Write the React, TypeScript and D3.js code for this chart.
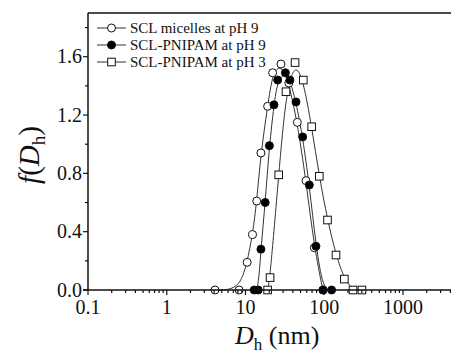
import React from 'react';
import * as d3 from 'd3';

const seriesNames = ['SCL micelles at pH 9', 'SCL-PNIPAM at pH 9', 'SCL-PNIPAM at pH 3'];

const micellesX = [4.1, 8.3, 10.5, 12.3, 13.9, 15.7, 19.1, 22.1, 28.2, 35.5, 45.5, 58.6, 74.8, 96];
const micellesY = [0, 0, 0.19, 0.38, 0.61, 0.94, 1.26, 1.49, 1.55, 1.42, 1.15, 0.75, 0.29, 0];

const pnipam9X = [12.9, 14.5, 15.7, 17.8, 20.1, 23.0, 25.6, 32.1, 36.7, 43.8, 53.2, 64.6, 78.5, 97, 124];
const pnipam9Y = [0, 0, 0.28, 0.6, 0.99, 1.27, 1.44, 1.49, 1.44, 1.29, 1.05, 0.72, 0.3, 0, 0];

const pnipam3X = [19.1, 20.5, 26.4, 32.7, 42.6, 54.2, 69.2, 86.5, 110, 141, 180, 232, 301];
const pnipam3Y = [0, 0.085, 0.79, 1.36, 1.56, 1.44, 1.12, 0.78, 0.48, 0.24, 0.075, 0, 0];

const xTicks = [0.1, 1, 10, 100, 1000];
const xTickLabels = ['0.1', '1', '10', '100', '1000'];
const yTicks = [0.0, 0.4, 0.8, 1.2, 1.6];
const yTickLabels = ['0.0', '0.4', '0.8', '1.2', '1.6'];
const yMinorTicks = [0.2, 0.6, 1.0, 1.4, 1.8];

const FONT = '"Liberation Serif", "Times New Roman", serif';

type Marker = 'openCircle' | 'filledCircle' | 'openSquare';

function MarkerShape({ kind, cx, cy }: { kind: Marker; cx: number; cy: number }) {
  if (kind === 'openSquare') {
    return <rect x={cx - 3.8} y={cy - 3.8} width={7.6} height={7.6} fill="#fff" stroke="#111" strokeWidth={1} />;
  }
  return (
    <circle cx={cx} cy={cy} r={4} fill={kind === 'filledCircle' ? '#000' : '#fff'} stroke="#111" strokeWidth={1} />
  );
}

export default function App() {
  const W = 451;
  const H = 355;
  const left = 88;
  const right = 451;
  const top = 13;
  const bottom = 290;

  const x = d3.scaleLog().domain([0.1, 4070]).range([left, right]);
  const y = d3.scaleLinear().domain([0, 1.9]).range([bottom, top]);

  const series: { name: string; xs: number[]; ys: number[]; marker: Marker }[] = [
    { name: seriesNames[0], xs: micellesX, ys: micellesY, marker: 'openCircle' },
    { name: seriesNames[1], xs: pnipam9X, ys: pnipam9Y, marker: 'filledCircle' },
    { name: seriesNames[2], xs: pnipam3X, ys: pnipam3Y, marker: 'openSquare' },
  ];

  const line = d3
    .line<[number, number]>()
    .x((d) => x(d[0]))
    .y((d) => y(d[1]))
    .curve(d3.curveBasis);

  const xMinor: number[] = [];
  for (let e = -1; e <= 3; e++) {
    for (let m = 2; m <= 9; m++) {
      const v = m * Math.pow(10, e);
      if (v < 4070) xMinor.push(v);
    }
  }

  return (
    <svg width={W} height={H} style={{ position: 'absolute', left: 0, top: 0, background: '#fff' }} fontFamily={FONT}>
      {/* curves */}
      {series.map((s, i) => (
        <path
          key={'l' + i}
          d={line(s.xs.map((v, j) => [v, s.ys[j]] as [number, number])) || ''}
          fill="none"
          stroke="#333"
          strokeWidth={1}
        />
      ))}
      {/* markers */}
      {series.map((s, i) => (
        <g key={'m' + i}>
          {s.xs.map((v, j) => (
            <MarkerShape key={j} kind={s.marker} cx={x(v)} cy={y(s.ys[j])} />
          ))}
        </g>
      ))}

      {/* frame: top line, left axis, bottom axis */}
      <line x1={left} x2={right} y1={top} y2={top} stroke="#111" strokeWidth={1.5} />
      <line x1={left} x2={left} y1={top} y2={bottom} stroke="#111" strokeWidth={1.5} />
      <line x1={left - 5} x2={right} y1={bottom} y2={bottom} stroke="#111" strokeWidth={1.5} />

      {/* y ticks */}
      {yTicks.map((v, i) => (
        <g key={'yt' + i}>
          <line x1={left - 5} x2={left} y1={y(v)} y2={y(v)} stroke="#111" strokeWidth={1.2} />
          <text x={left - 6} y={y(v) + 6.5} textAnchor="end" fontSize={20} fill="#111">
            {yTickLabels[i]}
          </text>
        </g>
      ))}
      {yMinorTicks.map((v, i) => (
        <line key={'ym' + i} x1={left - 3} x2={left} y1={y(v)} y2={y(v)} stroke="#111" strokeWidth={1.2} />
      ))}

      {/* x ticks */}
      {xTicks.map((v, i) => (
        <g key={'xt' + i}>
          <line x1={x(v)} x2={x(v)} y1={bottom} y2={bottom + 5} stroke="#111" strokeWidth={1.2} />
          <text x={x(v)} y={bottom + 24} textAnchor="middle" fontSize={20} fill="#111">
            {xTickLabels[i]}
          </text>
        </g>
      ))}
      {xMinor.map((v, i) => (
        <line key={'xm' + i} x1={x(v)} x2={x(v)} y1={bottom} y2={bottom + 3} stroke="#111" strokeWidth={1.2} />
      ))}

      {/* axis titles */}
      <text x={235} y={344} fontSize={26} fill="#111">
        <tspan fontStyle="italic">D</tspan>
        <tspan fontSize={17} dy={6}>h</tspan>
        <tspan dy={-6}> (nm)</tspan>
      </text>
      <text transform="translate(39,155) rotate(-90)" textAnchor="middle" fontSize={29} fill="#111">
        <tspan fontStyle="italic">f</tspan>
        <tspan>(</tspan>
        <tspan fontStyle="italic">D</tspan>
        <tspan fontSize={19} dy={6}>h</tspan>
        <tspan dy={-6}>)</tspan>
      </text>

      {/* legend */}
      {series.map((s, i) => {
        const ly = 28 + i * 17;
        return (
          <g key={'lg' + i}>
            <line x1={97} x2={126} y1={ly} y2={ly} stroke="#333" strokeWidth={1} />
            <MarkerShape kind={s.marker} cx={111.5} cy={ly} />
            <text x={130} y={ly + 5} fontSize={15} fill="#111">
              {s.name}
            </text>
          </g>
        );
      })}
    </svg>
  );
}
